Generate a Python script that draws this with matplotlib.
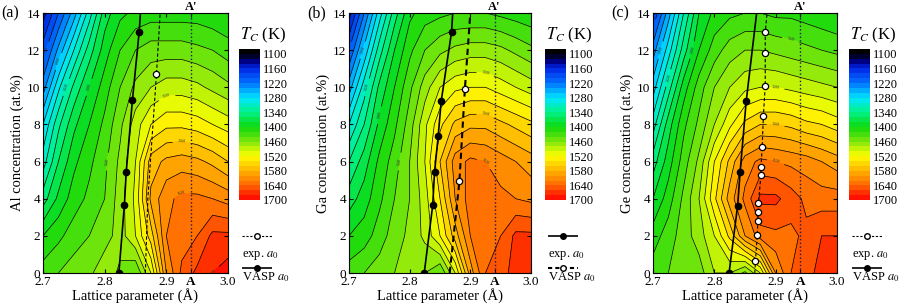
import numpy as np
import matplotlib
matplotlib.use("Agg")
import matplotlib.pyplot as plt
from matplotlib.colors import LinearSegmentedColormap

plt.rcParams['font.family'] = 'Liberation Serif'
plt.rcParams['mathtext.fontset'] = 'stix'

# grid of the maps: lattice parameter (A) x solute concentration (at.%)
lattice = [2.70, 2.725, 2.75, 2.775, 2.80, 2.825, 2.85, 2.875, 2.90, 2.925, 2.95, 2.975, 3.00]
conc = [0, 2, 4, 6, 8, 10, 12, 14]

# Curie temperature (K), one row per concentration (0 ... 14 at.%)
tc_al = [
    [1430, 1440, 1450, 1455, 1475, 1455, 1440, 1500, 1600, 1645, 1665, 1680, 1690],
    [1400, 1415, 1430, 1440, 1450, 1470, 1500, 1550, 1620, 1630, 1640, 1665, 1665],
    [1350, 1385, 1410, 1425, 1440, 1470, 1505, 1585, 1615, 1625, 1625, 1620, 1612],
    [1310, 1360, 1395, 1415, 1435, 1465, 1500, 1570, 1585, 1590, 1585, 1575, 1560],
    [1280, 1335, 1375, 1400, 1425, 1455, 1490, 1520, 1535, 1535, 1530, 1520, 1510],
    [1230, 1295, 1345, 1380, 1410, 1440, 1465, 1480, 1490, 1490, 1485, 1475, 1465],
    [1190, 1245, 1300, 1350, 1390, 1420, 1440, 1450, 1450, 1450, 1445, 1440, 1430],
    [1150, 1200, 1250, 1310, 1370, 1395, 1405, 1410, 1410, 1410, 1410, 1405, 1400],
]
tc_ga = [
    [1430, 1440, 1450, 1460, 1470, 1460, 1440, 1500, 1590, 1640, 1650, 1670, 1680],
    [1400, 1410, 1430, 1450, 1465, 1485, 1520, 1570, 1620, 1640, 1640, 1665, 1665],
    [1370, 1390, 1415, 1440, 1460, 1490, 1540, 1600, 1630, 1630, 1625, 1620, 1615],
    [1340, 1370, 1405, 1430, 1460, 1500, 1560, 1610, 1625, 1620, 1610, 1600, 1590],
    [1300, 1340, 1385, 1415, 1450, 1495, 1535, 1565, 1575, 1575, 1565, 1555, 1545],
    [1250, 1310, 1365, 1400, 1435, 1470, 1500, 1515, 1520, 1520, 1510, 1500, 1490],
    [1200, 1265, 1330, 1380, 1415, 1440, 1455, 1465, 1470, 1470, 1465, 1455, 1445],
    [1150, 1220, 1290, 1350, 1395, 1410, 1415, 1420, 1420, 1420, 1415, 1410, 1405],
]
tc_ge = [
    [1430, 1440, 1460, 1450, 1480, 1480, 1455, 1500, 1600, 1640, 1655, 1665, 1670],
    [1410, 1430, 1450, 1470, 1500, 1545, 1600, 1630, 1635, 1635, 1645, 1660, 1660],
    [1380, 1410, 1445, 1480, 1535, 1590, 1625, 1665, 1665, 1650, 1635, 1630, 1630],
    [1350, 1390, 1430, 1465, 1520, 1565, 1610, 1625, 1620, 1615, 1610, 1600, 1590],
    [1310, 1370, 1415, 1445, 1480, 1515, 1545, 1560, 1560, 1555, 1545, 1540, 1530],
    [1270, 1330, 1390, 1430, 1460, 1480, 1495, 1500, 1500, 1495, 1490, 1485, 1480],
    [1230, 1290, 1350, 1400, 1430, 1450, 1460, 1460, 1455, 1450, 1445, 1440, 1435],
    [1180, 1250, 1320, 1380, 1405, 1415, 1420, 1420, 1415, 1415, 1410, 1405, 1400],
]

# equilibrium lattice parameter curves
vasp_al_x = [2.823, 2.832, 2.835, 2.845, 2.856, 2.858]
vasp_al_y = [0, 3.65, 5.45, 9.3, 13.0, 14]
vasp_al_pts_x = [2.823, 2.832, 2.835, 2.845, 2.856]
vasp_al_pts_y = [0, 3.65, 5.45, 9.3, 13.0]
exp_al_x = [2.866, 2.870, 2.884, 2.890]
exp_al_y = [0, 4.0, 10.7, 14]
exp_al_pts_x = [2.884]
exp_al_pts_y = [10.7]

vasp_ga_x = [2.824, 2.838, 2.841, 2.847, 2.852, 2.869, 2.871]
vasp_ga_y = [0, 3.65, 5.44, 7.36, 9.26, 12.96, 14]
vasp_ga_pts_x = [2.824, 2.838, 2.841, 2.847, 2.852, 2.869]
vasp_ga_pts_y = [0, 3.65, 5.44, 7.36, 9.26, 12.96]
exp_ga_x = [2.866, 2.882, 2.891, 2.900]
exp_ga_y = [0, 4.94, 9.9, 14]
exp_ga_pts_x = [2.882, 2.891]
exp_ga_pts_y = [4.94, 9.9]

vasp_ge_x = [2.824, 2.838, 2.842, 2.852, 2.869]
vasp_ge_y = [0, 3.63, 5.42, 9.26, 14]
vasp_ge_pts_x = [2.824, 2.838, 2.842, 2.852]
vasp_ge_pts_y = [0, 3.63, 5.42, 9.26]
exp_ge_x = [2.866, 2.867, 2.870, 2.871, 2.872, 2.872, 2.876, 2.876, 2.878, 2.880, 2.883, 2.883, 2.883, 2.886]
exp_ge_y = [0, 0.63, 2.03, 2.8, 3.28, 3.79, 5.28, 5.69, 6.78, 8.47, 10.09, 11.83, 12.96, 14]
exp_ge_pts_x = [2.867, 2.870, 2.871, 2.872, 2.872, 2.876, 2.876, 2.878, 2.880, 2.883, 2.883, 2.883]
exp_ge_pts_y = [0.63, 2.03, 2.8, 3.28, 3.79, 5.28, 5.69, 6.78, 8.47, 10.09, 11.83, 12.96]

a_point = 2.94
cbar_ticks = [1100, 1160, 1220, 1280, 1340, 1400, 1460, 1520, 1580, 1640, 1700]

cmap = LinearSegmentedColormap.from_list("tc", [
    (0.00, (0.0, 0.0, 0.0)),
    (0.05, (0.0, 0.0, 0.55)),
    (0.10, (0.0, 0.15, 0.9)),
    (0.20, (0.0, 0.45, 1.0)),
    (0.30, (0.0, 0.9, 1.0)),
    (0.40, (0.0, 0.95, 0.55)),
    (0.50, (0.05, 0.85, 0.05)),
    (0.60, (0.5, 0.9, 0.05)),
    (0.70, (1.0, 1.0, 0.0)),
    (0.80, (1.0, 0.7, 0.0)),
    (0.90, (1.0, 0.4, 0.0)),
    (1.00, (1.0, 0.0, 0.0)),
])
levels = np.arange(1080, 1701, 20)

W, H = 900, 304
fig = plt.figure(figsize=(W / 100, H / 100), dpi=100)


def px(l, t, w, h):
    return [l / W, 1 - (t + h) / H, w / W, h / H]


panels = [
    ("(a)", "Al concentration (at.%)", tc_al, 43, 185,
     (vasp_al_x, vasp_al_y, vasp_al_pts_x, vasp_al_pts_y),
     (exp_al_x, exp_al_y, exp_al_pts_x, exp_al_pts_y), 0.8, False),
    ("(b)", "Ga concentration (at.%)", tc_ga, 349, 182,
     (vasp_ga_x, vasp_ga_y, vasp_ga_pts_x, vasp_ga_pts_y),
     (exp_ga_x, exp_ga_y, exp_ga_pts_x, exp_ga_pts_y), 1.5, True),
    ("(c)", "Ge concentration (at.%)", tc_ge, 653, 184,
     (vasp_ge_x, vasp_ge_y, vasp_ge_pts_x, vasp_ge_pts_y),
     (exp_ge_x, exp_ge_y, exp_ge_pts_x, exp_ge_pts_y), 0.8, False),
]

X, Y = np.meshgrid(lattice, conc)
for tag, ylabel, tc, left, width, vasp, expt, exp_lw, swapped in panels:
    ax = fig.add_axes(px(left, 13, width, 260))
    Z = np.array(tc, dtype=float)
    cf = ax.contourf(X, Y, Z, levels=levels, cmap=cmap, vmin=1100, vmax=1700)
    cs = ax.contour(X, Y, Z, levels=levels, colors="k", linewidths=0.5)
    ax.clabel(cs, cs.levels[::3], fontsize=3, fmt="%d", inline=True, colors="#333333")

    ax.plot([a_point, a_point], [0, 14], ls=":", color="#1a1a55", lw=1.0)
    ax.plot(vasp[0], vasp[1], "-", color="k", lw=1.2)
    ax.plot(vasp[2], vasp[3], "o", color="k", ms=4.5)
    ax.plot(expt[0], expt[1], "--", color="k", lw=exp_lw, dashes=(3, 2))
    ax.plot(expt[2], expt[3], "o", mfc="white", mec="k", mew=0.9, ms=4.5, ls="none")

    ax.set_xlim(2.7, 3.0)
    ax.set_ylim(0, 14)
    ax.set_xticks([2.7, 2.8, 2.9, a_point, 3.0])
    ax.set_xticklabels(["2.7", "2.8", "2.9", "A", "3.0"])
    ax.get_xticklabels()[3].set_fontweight("bold")
    ax.set_yticks(range(0, 15, 2))
    ax.tick_params(direction="in", length=3, labelsize=9.5, pad=2, top=True, right=True)
    ax.set_xlabel("Lattice parameter (Å)", fontsize=10.5, labelpad=0)
    ax.set_ylabel(ylabel, fontsize=10.5, labelpad=2)
    ax.text(a_point, 1 + 12.5 / 260, "A'", transform=ax.get_xaxis_transform(),
            ha="center", va="top", fontsize=9, fontweight="bold")
    fig.text((left - 43) / W + 1 / W, 1 - 13 / H, tag, fontsize=11.5, ha="left", va="center")

    cax = fig.add_axes(px(left + 196, 49, 21, 151))
    cb = fig.colorbar(cf, cax=cax, ticks=cbar_ticks)
    cb.outline.set_visible(False)
    cax.invert_yaxis()
    cax.tick_params(length=0, labelsize=9, pad=2)
    fig.text((left + 197) / W, 1 - 35 / H, "$T_C$ (K)", fontsize=12, ha="left", va="center")

    # legend keys, label written below each key
    lax = fig.add_axes(px(left + 199, 228, 30, 56))
    lax.set_xlim(0, 1)
    lax.set_ylim(56, 0)
    lax.axis("off")
    dashed = dict(ls="--", dashes=(2, 1.5), color="k", lw=exp_lw if swapped else 0.8,
                  marker="o", mfc="white", mec="k", ms=4, markevery=[1])
    solid = dict(ls="-", color="k", lw=1.2, marker="o", ms=4, markevery=[1])
    first, second = (solid, dashed) if swapped else (dashed, solid)
    lax.plot([0, 0.5, 1], [8, 8, 8], **first)
    lax.plot([0, 0.5, 1], [40, 40, 40], **second)
    fig.text((left + 199) / W, 1 - 256 / H, "exp. $a_0$", fontsize=9, ha="left", va="center")
    fig.text((left + 199) / W, 1 - 277 / H, "VASP $a_0$", fontsize=9, ha="left", va="center")

fig.savefig("out.png", dpi=100)
